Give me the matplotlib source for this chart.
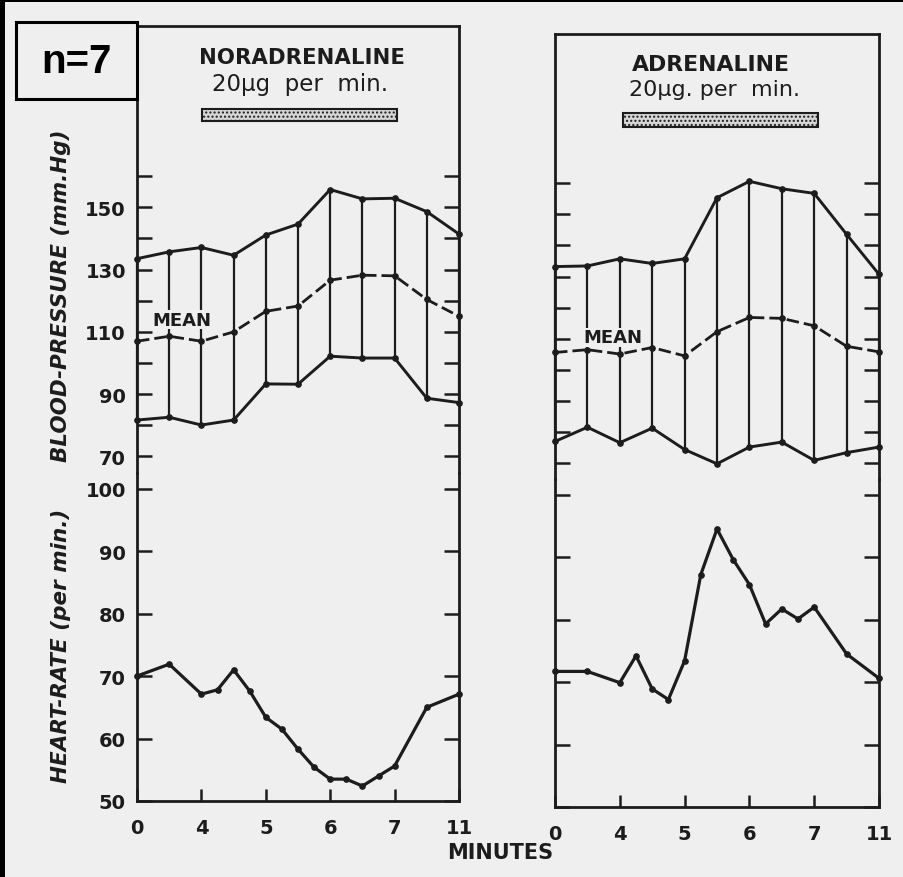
import numpy as np
import matplotlib
matplotlib.use("Agg")
import matplotlib.pyplot as plt
from matplotlib.patches import Rectangle

# minutes on the (broken) time axis
tick_minutes = [0, 4, 5, 6, 7, 11]
tick_labels = ["0", "4", "5", "6", "7", "11"]
bp_minutes = [0, 2, 4, 4.5, 5, 5.5, 6, 6.5, 7, 9, 11]
hr_minutes = [0, 2, 4, 4.25, 4.5, 4.75, 5, 5.25, 5.5, 5.75, 6, 6.25, 6.5, 6.75, 7, 9, 11]

# noradrenaline
nor_sys = [133.5, 135.7, 137.1, 134.6, 141.1, 144.6, 155.7, 152.7, 152.9, 148.6, 141.4]
nor_mean = [107.0, 108.6, 107.0, 110.0, 116.6, 118.3, 126.6, 128.2, 128.0, 120.4, 115.0]
nor_dia = [81.7, 82.6, 80.1, 81.7, 93.3, 93.2, 102.2, 101.6, 101.6, 88.7, 87.3]
nor_hr = [70.0, 71.9, 67.1, 67.8, 71.0, 67.6, 63.4, 61.5, 58.3, 55.4, 53.5, 53.5, 52.4, 54.0, 55.6, 65.0, 67.1]

# adrenaline
adr_sys = [133.2, 133.4, 135.7, 134.2, 135.7, 155.4, 160.7, 158.3, 156.8, 143.6, 130.7]
adr_mean = [105.5, 106.4, 105.0, 107.1, 104.4, 112.2, 116.8, 116.5, 114.1, 107.5, 105.7]
adr_dia = [76.8, 81.4, 76.4, 81.1, 74.2, 69.6, 75.0, 76.6, 70.7, 73.2, 75.0]
adr_hr = [71.7, 71.7, 69.9, 74.2, 68.9, 67.2, 73.4, 87.2, 94.5, 89.6, 85.6, 79.3, 81.7, 80.1, 82.0, 74.5, 70.6]

bp_ticks = list(range(70, 161, 10))
bp_tick_labels = ["70", "", "90", "", "110", "", "130", "", "150", ""]
hr_ticks = list(range(50, 101, 10))
hr_tick_labels = [str(t) for t in hr_ticks]

W, H = 904, 878
BG = "#efefef"
INK = "#1c1c1c"

fig = plt.figure(figsize=(W / 100, H / 100), dpi=100, facecolor=BG)


def box(x0, y0, x1, y1):
    return [x0 / W, 1 - y1 / H, (x1 - x0) / W, (y1 - y0) / H]


def fx(x):
    return np.interp(x, tick_minutes, np.arange(len(tick_minutes)))


def fx_inv(p):
    return np.interp(p, np.arange(len(tick_minutes)), tick_minutes)


def style(ax, yticks, ylabels, show_labels):
    ax.set_facecolor("none")
    ax.set_xscale("function", functions=(fx, fx_inv))
    ax.set_xlim(0, 11)
    for s in ax.spines.values():
        s.set_linewidth(2.0)
        s.set_color(INK)
        s.set_capstyle("projecting")
    ax.set_yticks(yticks)
    ax.set_yticklabels(ylabels if show_labels else [])
    ax.tick_params(axis="y", direction="in", length=11, width=1.8, left=True, right=True,
                   labelsize=14, pad=8, colors=INK)
    for t in ax.get_yticklabels():
        t.set_fontweight("bold")


def draw_panel(x0, x1, y_top, y_mid, y_bot, sys_v, mean_v, dia_v, hr_v, show_labels):
    ax_bp = fig.add_axes(box(x0, y_top, x1, y_mid))
    ax_hr = fig.add_axes(box(x0, y_mid, x1, y_bot))

    style(ax_bp, bp_ticks, bp_tick_labels, show_labels)
    ax_bp.set_ylim(64.7, 208.2)
    ax_bp.spines["bottom"].set_visible(False)
    ax_bp.tick_params(axis="x", bottom=False, labelbottom=False, which="both")

    style(ax_hr, hr_ticks, hr_tick_labels, show_labels)
    ax_hr.set_ylim(50, 102.5)
    ax_hr.spines["top"].set_visible(False)
    ax_hr.set_xticks(tick_minutes)
    ax_hr.set_xticklabels(tick_labels)
    ax_hr.xaxis.set_minor_locator(matplotlib.ticker.NullLocator())
    ax_hr.tick_params(axis="x", direction="in", length=9, width=1.8, labelsize=14,
                      pad=12, colors=INK)
    for t in ax_hr.get_xticklabels():
        t.set_fontweight("bold")

    ax_bp.vlines(bp_minutes, dia_v, sys_v, color=INK, lw=1.6, clip_on=False)
    ax_bp.plot(bp_minutes, sys_v, "-o", color=INK, lw=2.1, ms=3.8, clip_on=False)
    ax_bp.plot(bp_minutes, dia_v, "-o", color=INK, lw=2.1, ms=3.8, clip_on=False)
    ax_bp.plot(bp_minutes, mean_v, "o", color=INK, ms=3.8, clip_on=False)
    ax_bp.plot(bp_minutes, mean_v, color=INK, lw=2.0, ls=(0, (4.5, 1.8)), clip_on=False)
    ax_hr.plot(hr_minutes, hr_v, "-o", color=INK, lw=2.3, ms=3.8, clip_on=False)
    return ax_bp, ax_hr


l_bp, l_hr = draw_panel(137, 459, 27, 474, 802, nor_sys, nor_mean, nor_dia, nor_hr, True)
r_bp, r_hr = draw_panel(555, 879, 35, 480, 808, adr_sys, adr_mean, adr_dia, adr_hr, False)

# MEAN labels
l_bp.text(2.8, 111.0, "MEAN", ha="center", va="bottom", fontsize=13, fontweight="bold",
          color=INK, bbox=dict(facecolor=BG, edgecolor="none", pad=0.5), zorder=5)
r_bp.text(3.6, 107.5, "MEAN", ha="center", va="bottom", fontsize=13, fontweight="bold",
          color=INK, bbox=dict(facecolor=BG, edgecolor="none", pad=0.5), zorder=5)


def ftext(x, y, s, **kw):
    fig.text(x / W, 1 - y / H, s, color=INK, **kw)


def bar(x0, y0, x1, y1):
    fig.patches.append(Rectangle((x0 / W, 1 - y1 / H), (x1 - x0) / W, (y1 - y0) / H,
                                 transform=fig.transFigure, facecolor="#d6d6d6",
                                 edgecolor=INK, lw=1.5, hatch="....", zorder=3))


ftext(302, 58, "NORADRENALINE", ha="center", va="center", fontsize=15.3, fontweight="bold")
ftext(300, 84, "20\u03bcg  per  min.", ha="center", va="center", fontsize=16.5)
bar(202, 110, 397, 122)

ftext(711, 65, "ADRENALINE", ha="center", va="center", fontsize=15.8, fontweight="bold")
ftext(715, 90, "20\u03bcg. per  min.", ha="center", va="center", fontsize=16)
bar(623, 114, 818, 128)

ftext(61, 296, "BLOOD-PRESSURE (mm.Hg)", rotation=90, ha="center", va="center",
      fontsize=15.5, fontweight="bold", fontstyle="italic")
ftext(61, 646, "HEART-RATE (per min.)", rotation=90, ha="center", va="center",
      fontsize=15.5, fontweight="bold", fontstyle="italic")
ftext(500, 853, "MINUTES", ha="center", va="center", fontsize=15, fontweight="bold")

# n=7 box
fig.patches.append(Rectangle((16 / W, 1 - 100 / H), 121 / W, 77 / H, transform=fig.transFigure,
                             facecolor=BG, edgecolor="black", lw=2.2, zorder=4))
fig.text(76 / W, 1 - 62 / H, "n=7", ha="center", va="center", fontsize=29,
         fontweight="bold", family=["Liberation Sans", "DejaVu Sans"], zorder=5)

# scan border
fig.patches.append(Rectangle((0, 0), 5 / W, 1, transform=fig.transFigure,
                             facecolor="black", edgecolor="none", zorder=6))
fig.patches.append(Rectangle((0, 1 - 3 / H), 1, 3 / H, transform=fig.transFigure,
                             facecolor="black", edgecolor="none", zorder=6))

fig.savefig("out.png", dpi=100, facecolor=BG)
